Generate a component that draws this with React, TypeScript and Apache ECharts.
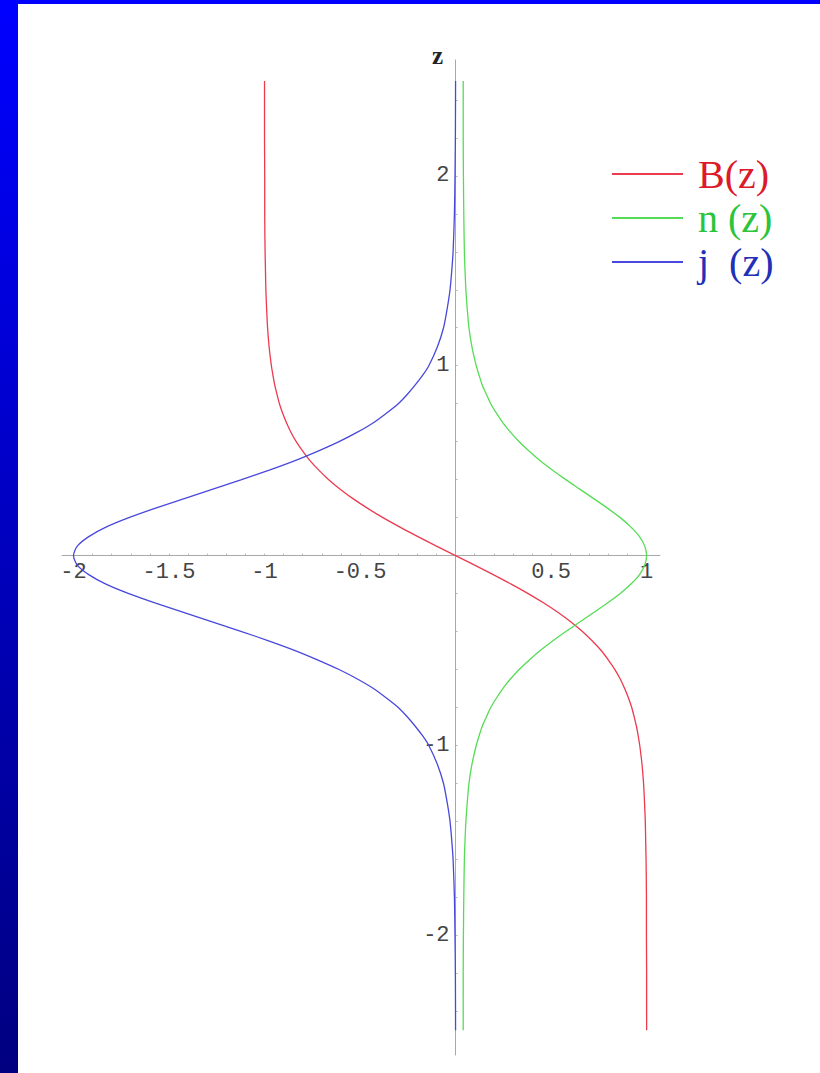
import { useEffect, useRef } from "react";
import * as echarts from "echarts";

// Harris current sheet profiles sampled along z
const zValues = [
  -2.5, -2.2, -2.0, -1.8, -1.6, -1.5, -1.4, -1.3, -1.2, -1.1, -1.0, -0.95, -0.9, -0.85, -0.8,
  -0.75, -0.7, -0.65, -0.6, -0.55, -0.5, -0.45, -0.4, -0.35, -0.3, -0.25, -0.2, -0.15, -0.1,
  -0.05, 0, 0.05, 0.1, 0.15, 0.2, 0.25, 0.3, 0.35, 0.4, 0.45, 0.5, 0.55, 0.6, 0.65, 0.7, 0.75,
  0.8, 0.85, 0.9, 0.95, 1.0, 1.1, 1.2, 1.3, 1.4, 1.5, 1.6, 1.8, 2.0, 2.2, 2.5,
];

const fieldB = [
  1.0, 1.0, 0.999, 0.999, 0.997, 0.995, 0.993, 0.989, 0.984, 0.976, 0.964, 0.956, 0.947, 0.935,
  0.922, 0.905, 0.885, 0.862, 0.834, 0.8, 0.762, 0.716, 0.664, 0.604, 0.537, 0.462, 0.38, 0.291,
  0.197, 0.1, 0, -0.1, -0.197, -0.291, -0.38, -0.462, -0.537, -0.604, -0.664, -0.716, -0.762,
  -0.8, -0.834, -0.862, -0.885, -0.905, -0.922, -0.935, -0.947, -0.956, -0.964, -0.976, -0.984,
  -0.989, -0.993, -0.995, -0.997, -0.999, -0.999, -1.0, -1.0,
];

const densityN = [
  0.04, 0.04, 0.041, 0.043, 0.046, 0.0495, 0.054, 0.061, 0.07, 0.0855, 0.108, 0.123, 0.139, 0.161,
  0.184, 0.214, 0.247, 0.287, 0.333, 0.386, 0.443, 0.508, 0.577, 0.65, 0.723, 0.795, 0.862, 0.918,
  0.963, 0.99, 1.0, 0.99, 0.963, 0.918, 0.862, 0.795, 0.723, 0.65, 0.577, 0.508, 0.443, 0.386,
  0.333, 0.287, 0.247, 0.214, 0.184, 0.161, 0.139, 0.123, 0.108, 0.0855, 0.07, 0.061, 0.054,
  0.0495, 0.046, 0.043, 0.041, 0.04, 0.04,
];

const currentJ = [
  0, -0.001, -0.003, -0.006, -0.013, -0.02, -0.029, -0.044, -0.063, -0.095, -0.14, -0.172, -0.21,
  -0.252, -0.3, -0.362, -0.43, -0.514, -0.61, -0.72, -0.84, -0.975, -1.12, -1.27, -1.42, -1.57,
  -1.71, -1.83, -1.92, -1.98, -2.0, -1.98, -1.92, -1.83, -1.71, -1.57, -1.42, -1.27, -1.12,
  -0.975, -0.84, -0.72, -0.61, -0.514, -0.43, -0.362, -0.3, -0.252, -0.21, -0.172, -0.14, -0.095,
  -0.063, -0.044, -0.029, -0.02, -0.013, -0.006, -0.003, -0.001, 0,
];

const xTickLabels = [-2, -1.5, -1, -0.5, 0.5, 1];
const zTickLabels = [-2, -1, 1, 2];

const seriesNames = ["B(z)", "n (z)", "j  (z)"];
const lineColors = ["#ec3a4e", "#55dc55", "#4848dc"];
const textColors = ["#dd1a2a", "#2cc43c", "#2230b8"];

// plot frame in page pixels
const GRID_LEFT = 62;
const GRID_TOP = 60;
const GRID_W = 598;
const GRID_H = 995;
const X_MIN = -2.06;
const X_MAX = 1.07;
const Z_MIN = -2.63;
const Z_MAX = 2.61;

function steps(from: number, to: number, step: number): number[] {
  const out: number[] = [];
  const n = Math.round((to - from) / step);
  for (let i = 0; i <= n; i++) out.push(Math.round((from + i * step) * 100) / 100);
  return out;
}

export default function App() {
  const ref = useRef<HTMLDivElement>(null);

  useEffect(() => {
    const chart = echarts.init(ref.current!, null, { renderer: "svg" });
    const profiles = [fieldB, densityN, currentJ];

    // shift the axes from the frame edges to the origin
    const xAxisOffset = -(GRID_H * (0 - Z_MIN)) / (Z_MAX - Z_MIN);
    const yAxisOffset = -(GRID_W * (0 - X_MIN)) / (X_MAX - X_MIN);

    const labelStyle = {
      fontFamily: "Liberation Mono",
      fontSize: 22,
      color: "#444",
    };

    chart.setOption({
      animation: false,
      grid: { left: GRID_LEFT, top: GRID_TOP, width: GRID_W, height: GRID_H, containLabel: false },
      xAxis: {
        type: "value",
        position: "bottom",
        offset: xAxisOffset,
        min: X_MIN,
        max: X_MAX,
        splitLine: { show: false },
        axisLine: { onZero: false, lineStyle: { color: "#a8a8a8", width: 1 } },
        axisTick: {
          show: true,
          length: 2,
          inside: true,
          customValues: steps(-2, 1, 0.1),
          lineStyle: { color: "#b4b4b4" },
        },
        axisLabel: { ...labelStyle, margin: 6, customValues: xTickLabels },
      },
      yAxis: {
        type: "value",
        position: "left",
        offset: yAxisOffset,
        min: Z_MIN,
        max: Z_MAX,
        splitLine: { show: false },
        axisLine: { onZero: false, lineStyle: { color: "#a8a8a8", width: 1 } },
        axisTick: {
          show: true,
          length: 2,
          inside: true,
          customValues: steps(-2.4, 2.4, 0.2),
          lineStyle: { color: "#b4b4b4" },
        },
        axisLabel: { ...labelStyle, margin: 6, customValues: zTickLabels },
      },
      legend: {
        orient: "vertical",
        left: 607,
        top: 149,
        itemWidth: 71,
        itemHeight: 2,
        itemGap: 4,
        icon: "rect",
        selectedMode: false,
        data: seriesNames.map((name, i) => ({ name, textStyle: { color: textColors[i] } })),
        textStyle: {
          fontFamily: "Liberation Serif",
          fontSize: 40,
          padding: [0, 0, 0, 10],
        },
      },
      graphic: [
        {
          type: "text",
          left: 432,
          top: 43,
          style: {
            text: "z",
            font: "bold 25px 'Liberation Serif'",
            fill: "#222",
          },
        },
      ],
      series: profiles.map((values, i) => ({
        name: seriesNames[i],
        type: "line",
        showSymbol: false,
        smooth: 0.25,
        color: lineColors[i],
        lineStyle: { width: 1.3, color: lineColors[i] },
        data: zValues.map((z, k) => [values[k], z]),
      })),
    });

    return () => chart.dispose();
  }, []);

  return (
    <div
      style={{
        position: "fixed",
        left: 0,
        top: 0,
        width: 820,
        height: 1073,
        background: "linear-gradient(to bottom, #0000ff, #000080)",
      }}
    >
      <div
        style={{ position: "absolute", left: 18, top: 4, right: 0, bottom: 0, background: "#fff" }}
      />
      <div ref={ref} style={{ position: "absolute", left: 0, top: 0, width: 820, height: 1073 }} />
    </div>
  );
}
